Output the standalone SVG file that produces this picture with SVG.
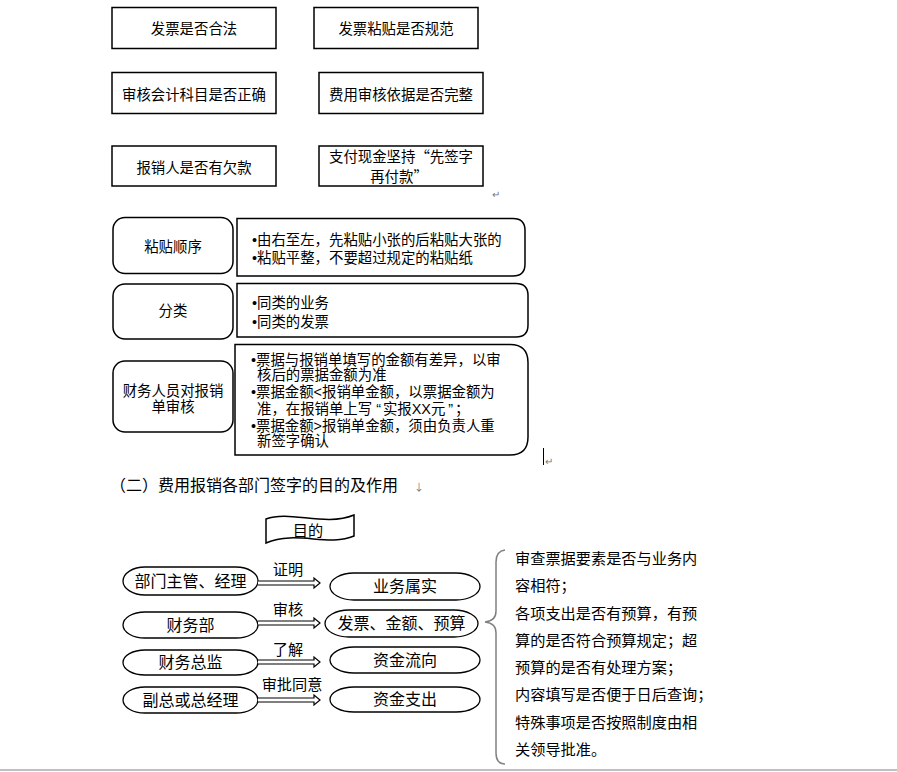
<svg xmlns="http://www.w3.org/2000/svg" width="897" height="772" viewBox="0 0 897 772">
<style>
text{font-family:"Noto Sans CJK SC","Liberation Sans",sans-serif;fill:#000}
text.l{font-family:"Liberation Sans","Noto Sans CJK SC",sans-serif}
tspan.q{font-family:"Noto Sans CJK SC",sans-serif}
.t14{font-size:14.4px}
.t15{font-size:15.2px}
.t16{font-size:16px}
.c{text-anchor:middle}
.box{fill:#fff;stroke:#000;stroke-width:1.5}
.cap{fill:#fff;stroke:#000;stroke-width:1.3}
.arr{fill:#fff;stroke:#000;stroke-width:1.2}
.mark{font-size:10px;fill:#777}
</style>
<rect width="897" height="772" fill="#fff"/>

<g id="top-boxes">
<g id="n-fapiao-hefa"><rect class="box" x="112" y="7.5" width="164" height="41"/><text class="t14 c" x="194" y="34">发票是否合法</text></g>
<g id="n-fapiao-niantie"><rect class="box" x="314" y="7.5" width="164" height="41"/><text class="t14 c" x="396" y="34">发票粘贴是否规范</text></g>
<g id="n-kemu"><rect class="box" x="112" y="72.5" width="164" height="41"/><text class="t14 c" x="194" y="100">审核会计科目是否正确</text></g>
<g id="n-yiju"><rect class="box" x="319" y="72.5" width="164" height="41"/><text class="t14 c" x="401" y="100">费用审核依据是否完整</text></g>
<g id="n-qiankuan"><rect class="box" x="112" y="146" width="164" height="40"/><text class="t14 c" x="194" y="173">报销人是否有欠款</text></g>
<g id="n-xianjin"><rect class="box" x="319" y="146" width="164" height="40"/><text class="t14 c l" x="401" y="162">支付现金坚持<tspan class="q">“</tspan>先签字</text><text class="t14 c l" x="399" y="182">再付款<tspan class="q">”</tspan></text></g>
<text class="mark" x="492" y="198">↵</text>
</g>

<g id="mid-rows">
<g id="n-shunxu"><rect class="box" x="113" y="217.5" width="120" height="56" rx="12"/><text class="t14 c" x="173" y="252">粘贴顺序</text></g>
<g id="n-shunxu-d"><path class="box" d="M237,218.5 H513 Q525,218.5 525,230.5 V264 Q525,276 513,276 H237 Z"/>
<text class="t14 l" x="252" y="245">•由右至左，先粘贴小张的后粘贴大张的</text>
<text class="t14 l" x="252" y="263">•粘贴平整，不要超过规定的粘贴纸</text></g>
<g id="n-fenlei"><rect class="box" x="113" y="284" width="120" height="55" rx="12"/><text class="t14 c" x="173" y="316">分类</text></g>
<g id="n-fenlei-d"><path class="box" d="M237,283.5 H516 Q528,283.5 528,295.5 V325 Q528,337 516,337 H237 Z"/>
<text class="t14 l" x="252" y="308">•同类的业务</text>
<text class="t14 l" x="252" y="327">•同类的发票</text></g>
<g id="n-shenhe"><rect class="box" x="113" y="361" width="120" height="71" rx="12"/><text class="t14 c l" x="173" y="396">财务人员对报销</text><text class="t14 c l" x="173" y="412">单审核</text></g>
<g id="n-shenhe-d"><path class="box" d="M235,344.5 H510 Q528,344.5 528,362.5 V437 Q528,455 510,455 H235 Z"/>
<text class="t14 l" x="251" y="365">•票据与报销单填写的金额有差异，以审</text>
<text class="t14 l" x="257" y="380">核后的票据金额为准</text>
<text class="t14 l" x="251" y="397">•票据金额&lt;报销单金额，以票据金额为</text>
<text class="t14 l" x="257" y="414">准，在报销单上写<tspan dx="4">“</tspan><tspan dx="2">实报XX元</tspan><tspan dx="3">”</tspan><tspan dx="2">；</tspan></text>
<text class="t14 l" x="251" y="431">•票据金额&gt;报销单金额，须由负责人重</text>
<text class="t14 l" x="257" y="446">新签字确认</text></g>
<line x1="543.5" y1="448" x2="543.5" y2="465" stroke="#000" stroke-width="1"/>
<text class="mark" x="545" y="465">↵</text>
</g>

<text class="t16" x="110" y="491">（二）费用报销各部门签字的目的及作用</text>
<text class="mark" x="414" y="491">↓</text>

<g id="n-mudi"><path class="box" d="M266,519 C290,510 325,527 354,515 L354,536 C328,547 296,530 266,543 Z" stroke-width="1.3"/><text class="t15 c" x="308" y="536">目的</text></g>

<g id="left-caps">
<g id="n-bumen"><rect class="cap" x="123" y="567" width="135" height="28" rx="22" ry="14"/><text class="t16 c" x="190.5" y="587">部门主管、经理</text></g>
<g id="n-caiwubu"><rect class="cap" x="123" y="612" width="135" height="26" rx="22" ry="13"/><text class="t16 c" x="190.5" y="631">财务部</text></g>
<g id="n-zongjian"><rect class="cap" x="123" y="650" width="135" height="25" rx="22" ry="12.5"/><text class="t16 c" x="190.5" y="668">财务总监</text></g>
<g id="n-fuzong"><rect class="cap" x="123" y="687" width="135" height="26" rx="22" ry="13"/><text class="t16 c" x="190.5" y="706">副总或总经理</text></g>
</g>

<g id="right-caps">
<g id="n-shushi"><rect class="cap" x="330" y="573" width="150" height="27" rx="24" ry="13.5"/><text class="t16 c" x="405" y="592">业务属实</text></g>
<g id="n-yusuan"><rect class="cap" x="325" y="610" width="153" height="27" rx="24" ry="13.5"/><text class="t16 c" x="401.5" y="629">发票、金额、预算</text></g>
<g id="n-liuxiang"><rect class="cap" x="330" y="647" width="150" height="26" rx="24" ry="13"/><text class="t16 c" x="405" y="666">资金流向</text></g>
<g id="n-zhichu"><rect class="cap" x="330" y="687" width="150" height="25" rx="24" ry="12.5"/><text class="t16 c" x="405" y="705">资金支出</text></g>
</g>

<g id="connectors">
<path class="arr" d="M258,581 H314 V578 L320,583 L314,588 V585 H258"/>
<path class="arr" d="M258,621 H314 V618 L320,623 L314,628 V625 H258"/>
<path class="arr" d="M258,660 H314 V657 L320,662 L314,667 V664 H258"/>
<path class="arr" d="M258,698 H314 V695 L320,700 L314,705 V702 H258"/>
<text class="t15 c" x="288" y="575">证明</text>
<text class="t15 c" x="288" y="615">审核</text>
<text class="t15 c" x="288" y="655">了解</text>
<text class="t15 c" x="292" y="690">审批同意</text>
<path d="M505,550 Q496,551 496,562 L496,611 Q496,621 485,622 Q496,623 496,633 L496,753 Q496,764 505,764" fill="none" stroke="#808080" stroke-width="1.5"/>
</g>

<g id="n-notes">
<text class="t15" x="515" y="564">审查票据要素是否与业务内</text>
<text class="t15" x="515" y="591">容相符；</text>
<text class="t15" x="515" y="619">各项支出是否有预算，有预</text>
<text class="t15" x="515" y="646">算的是否符合预算规定；超</text>
<text class="t15" x="515" y="673">预算的是否有处理方案；</text>
<text class="t15" x="515" y="700">内容填写是否便于日后查询；</text>
<text class="t15" x="515" y="728">特殊事项是否按照制度由相</text>
<text class="t15" x="515" y="755">关领导批准。</text>
</g>

<line x1="0" y1="770" x2="897" y2="770" stroke="#c0c0c0" stroke-width="2"/>
</svg>
